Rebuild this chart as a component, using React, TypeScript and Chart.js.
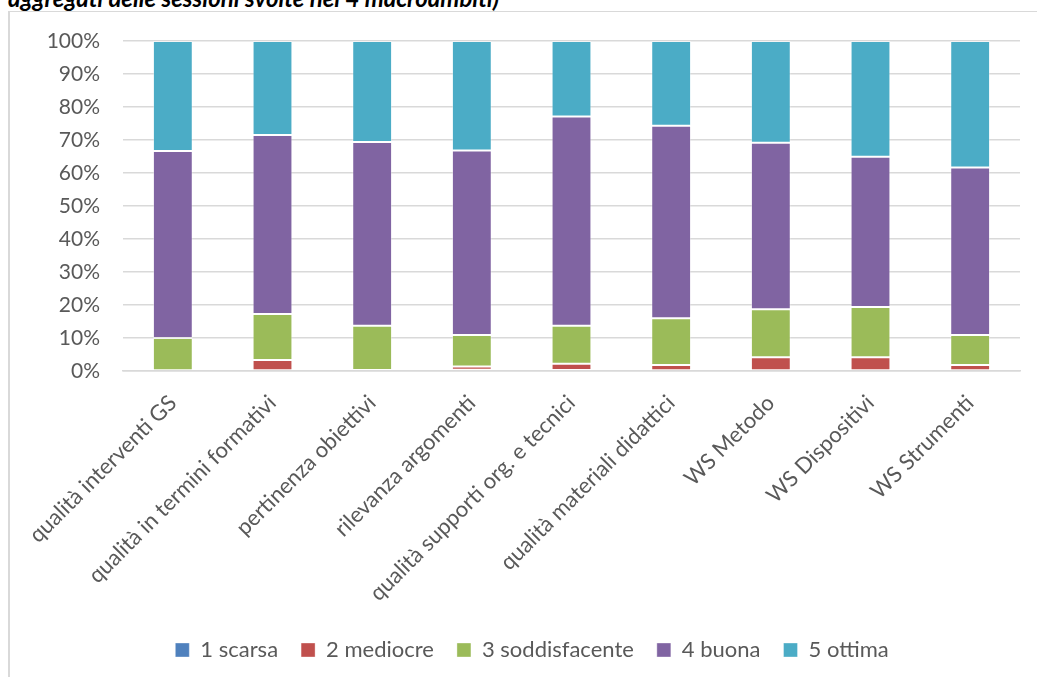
import React, { useEffect, useRef } from "react";
import { Chart, registerables } from "chart.js";

Chart.register(...registerables);

const categories = [
  "qualità interventi GS",
  "qualità in termini formativi",
  "pertinenza obiettivi",
  "rilevanza argomenti",
  "qualità supporti org. e tecnici",
  "qualità materiali didattici",
  "WS Metodo",
  "WS Dispositivi",
  "WS Strumenti",
];

const seriesNames = ["1 scarsa", "2 mediocre", "3 soddisfacente", "4 buona", "5 ottima"];
const seriesColors = ["#4F81BD", "#C0504D", "#9BBB59", "#8064A2", "#4BACC6"];

const scarsa = [0, 0, 0, 0.4, 0.3, 0, 0, 0, 0];
const mediocre = [0, 3.3, 0.3, 1.0, 1.9, 1.8, 4.2, 4.2, 1.8];
const soddisfacente = [10.0, 14.0, 13.4, 9.5, 11.5, 14.2, 14.5, 15.2, 9.1];
const buona = [56.7, 54.2, 55.7, 55.9, 63.4, 58.3, 50.5, 45.5, 50.8];
const ottima = [33.3, 28.5, 30.6, 33.2, 22.9, 25.7, 30.8, 35.1, 38.3];

const yTicks = [0, 10, 20, 30, 40, 50, 60, 70, 80, 90, 100];

const titleText = "aggregati delle sessioni svolte nei 4 macroambiti)";

const FONT = "Lato, 'Open Sans', sans-serif";

export default function App() {
  const ref = useRef<HTMLCanvasElement | null>(null);

  useEffect(() => {
    if (!ref.current) return;
    const values = [scarsa, mediocre, soddisfacente, buona, ottima];
    const chart = new Chart(ref.current, {
      type: "bar",
      data: {
        labels: categories,
        datasets: values.map((v, i) => ({
          label: seriesNames[i],
          data: v,
          backgroundColor: seriesColors[i],
          borderColor: "rgba(255,255,255,0.35)",
          borderWidth: 1,
          borderSkipped: false,
          barPercentage: 1,
          categoryPercentage: 0.4,
        })),
      },
      options: {
        animation: false,
        responsive: false,
        maintainAspectRatio: false,
        layout: { padding: { top: 29, right: 17, bottom: 6, left: 34 } },
        plugins: {
          legend: {
            position: "bottom",
            labels: {
              boxWidth: 14,
              boxHeight: 14,
              padding: 23,
              color: "#595959",
              font: { family: FONT, size: 22 },
            },
          },
          tooltip: { enabled: false },
          title: { display: false },
        },
        scales: {
          x: {
            stacked: true,
            grid: { display: false, drawTicks: false },
            border: { display: true, color: "#d9d9d9", width: 1.5 },
            ticks: {
              maxRotation: 45,
              minRotation: 45,
              autoSkip: false,
              padding: 19,
              color: "#595959",
              font: { family: FONT, size: 22 },
            },
            afterFit: (scale: any) => {
              scale.height = 245;
              scale.paddingLeft = 0;
              scale.paddingRight = 0;
            },
          },
          y: {
            stacked: true,
            min: 0,
            max: 100,
            grid: { color: "#d9d9d9", lineWidth: 1.5, drawTicks: false },
            border: { display: false },
            afterBuildTicks: (scale: any) => {
              scale.ticks = yTicks.map((v) => ({ value: v }));
            },
            ticks: {
              padding: 23,
              color: "#595959",
              font: { family: FONT, size: 21 },
              callback: (v: any) => v + "%",
            },
            afterFit: (scale: any) => {
              scale.width = 79;
              scale.paddingTop = 0;
              scale.paddingBottom = 0;
            },
          },
        },
      },
    });
    return () => chart.destroy();
  }, []);

  return (
    <div style={{ position: "fixed", left: 0, top: 0, width: 1037, height: 677, background: "#fff", overflow: "hidden" }}>
      <div
        style={{
          position: "absolute",
          left: 8,
          top: -14,
          fontFamily: FONT,
          fontWeight: 700,
          fontStyle: "italic",
          fontSize: 24,
          lineHeight: "24px",
          color: "#000",
          whiteSpace: "nowrap",
        }}
      >
        {titleText}
      </div>
      <div
        style={{
          position: "absolute",
          left: 8,
          top: 11,
          width: 1029,
          height: 666,
          borderLeft: "2px solid #d9d9d9",
          borderTop: "1px solid #d9d9d9",
        }}
      >
        <canvas ref={ref} width={1027} height={665} style={{ display: "block", width: 1027, height: 665 }} />
      </div>
    </div>
  );
}
